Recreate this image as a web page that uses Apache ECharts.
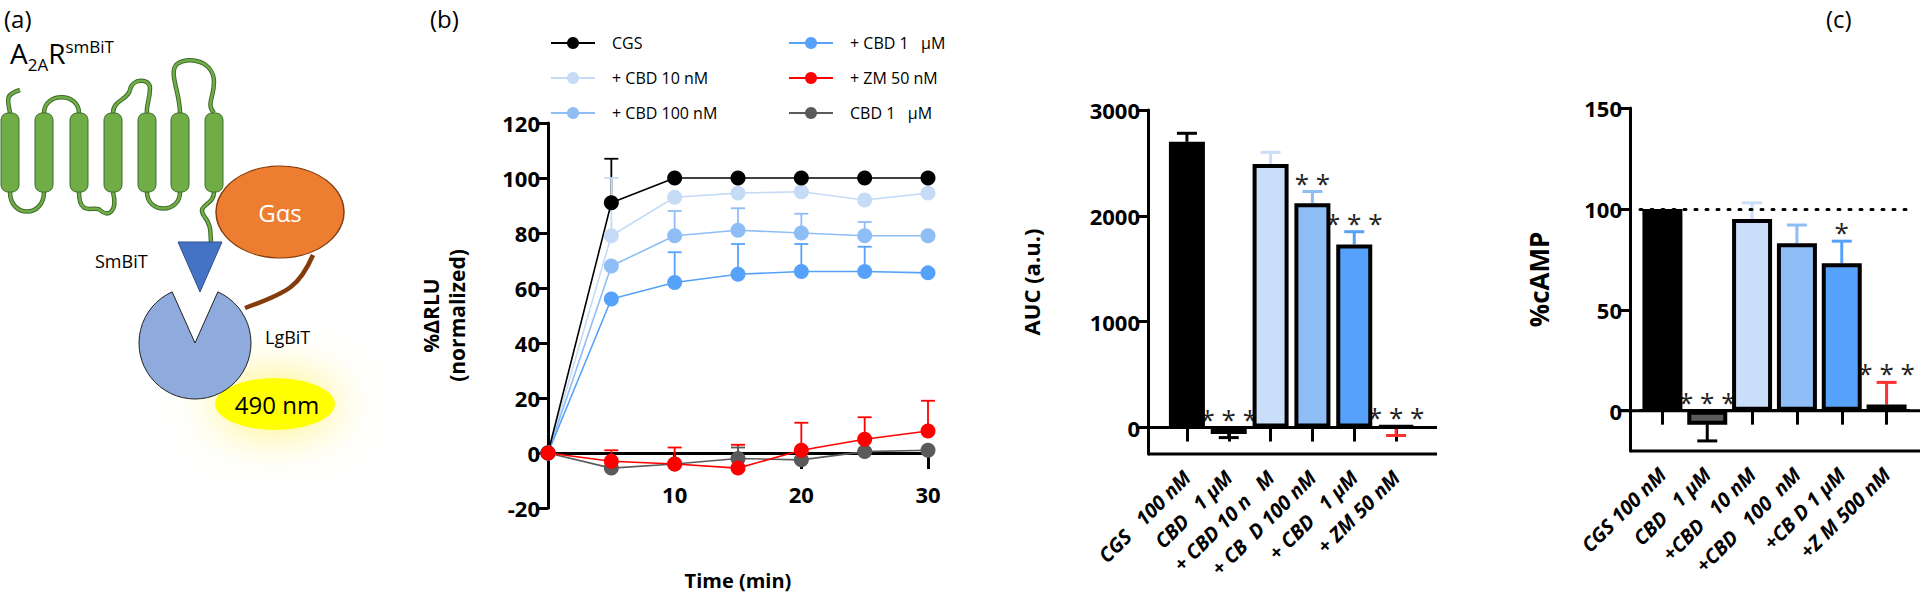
<!DOCTYPE html>
<html>
<head>
<meta charset="utf-8">
<script src="https://cdn.jsdelivr.net/npm/echarts@6/dist/echarts.min.js"></script>
<style>html,body{margin:0;padding:0;background:#fff}#main{width:1920px;height:612px}</style>
</head>
<body>
<div id="main"></div>
<script>
// ---- panel (b) time course ----
var times = [0, 5, 10, 15, 20, 25, 30];
var cgs      = [0, 91, 100, 100, 100, 100, 100];
var cbd10    = [0, 79, 93, 94.5, 95, 92, 94.5];
var cbd100   = [0, 68, 79, 81, 80, 79, 79];
var cbd1     = [0, 56, 62, 65, 66, 66, 65.5];
var zm50     = [0, -3, -4, -5.5, 1, 5, 8];
var cbdAlone = [0, -5.5, -4, -2, -2.5, 0.5, 1];
// upper error values (null = not visible)
var cgsErr    = [null, 107, null, null, null, null, null];
var cbd10Err  = [null, 100, null, null, null, null, null];
var cbd100Err = [null, null, 88, 89, 87, 84, null];
var cbd1Err   = [null, null, 73, 76, 76, 75, null];
var zm50Err   = [null, 1, 2, 3, 11, 13, 19];
var cbdAloneErr = [null, null, null, 2, null, null, null];

// ---- AUC panel ----
var aucCats = ['CGS   100 nM', 'CBD   1 μM', '+ CBD 10 n   M', '+ CB  D 100 nM', '+ CBD   1 μM', '+ ZM 50 nM'];
var aucVals = [2700, -60, 2490, 2120, 1730, 15];
var aucErr  = [2780, -95, 2600, 2230, 1850, -75];
var aucStars = ['', '* * *', '', '* *', '* * *', '* * *'];
var aucTicks = [0, 1000, 2000, 3000];

// ---- cAMP panel ----
var campCats = ['CGS 100 nM', 'CBD   1 μM', '+CBD   10 nM', '+CBD   100  nM', '+CB D 1 μM', '+Z M 500 nM'];
var campVals = [100, -7, 95, 83, 73, 3];
var campErr  = [100, -15, 103, 92, 84, 14];
var campStars = ['', '* * *', '', '', '*', '* * *'];
var campTicks = [0, 50, 100, 150];

var barFill = ['#000000', '#5a5a5a', '#C9DEF8', '#8FBDF6', '#56A2FA', '#000000'];
var errColor = ['#000000', '#000000', '#C9DEF8', '#8FBDF6', '#56A2FA', '#FF3030'];

var FONT = 'Open Sans';
var chart = echarts.init(document.getElementById('main'), null, {renderer: 'svg'});

function errData(vals, errs) {
  var out = [];
  for (var i = 0; i < vals.length; i++) if (errs[i] !== null) out.push([times[i], vals[i], errs[i]]);
  return out;
}
function errSeries(name, vals, errs, color) {
  return {
    type: 'custom', xAxisIndex: 0, yAxisIndex: 0, z: 1, silent: true,
    data: errData(vals, errs),
    renderItem: function (params, api) {
      var p0 = api.coord([api.value(0), api.value(1)]);
      var p1 = api.coord([api.value(0), api.value(2)]);
      var st = {stroke: color, lineWidth: 1.8};
      return {type: 'group', children: [
        {type: 'line', shape: {x1: p0[0], y1: p0[1], x2: p1[0], y2: p1[1]}, style: st},
        {type: 'line', shape: {x1: p1[0] - 7, y1: p1[1], x2: p1[0] + 7, y2: p1[1]}, style: st}
      ]};
    }
  };
}
function lineSeries(name, vals, color) {
  return {
    name: name, type: 'line', xAxisIndex: 0, yAxisIndex: 0, z: 3,
    data: times.map(function (t, i) { return [t, vals[i]]; }),
    symbol: 'circle', symbolSize: 15, color: color,
    lineStyle: {width: 1.6, color: color}, itemStyle: {color: color}
  };
}
function barErrSeries(idx, vals, errs, stars) {
  return {
    type: 'custom', xAxisIndex: idx + 1, yAxisIndex: idx, z: 1, silent: true,
    data: vals.map(function (v, i) { return [i, v, errs[i]]; }),
    renderItem: function (params, api) {
      var i = api.value(0), v = api.value(1), e = api.value(2);
      var p0 = api.coord([i, v]);
      var p1 = api.coord([i, e]);
      var top = api.coord([i, Math.max(v, e, 0)]);
      var st = {stroke: errColor[i], lineWidth: 3};
      var ch = [];
      if (e !== v) {
        ch.push({type: 'line', shape: {x1: p0[0], y1: p0[1], x2: p1[0], y2: p1[1]}, style: st});
        ch.push({type: 'line', shape: {x1: p1[0] - 10, y1: p1[1], x2: p1[0] + 10, y2: p1[1]}, style: st});
      }
      if (stars[i]) ch.push({type: 'text', x: top[0], y: top[1] + 4, style: {text: stars[i], fill: '#222', font: '26px ' + FONT, align: 'center', verticalAlign: 'bottom'}});
      return {type: 'group', children: ch};
    }
  };
}
function barSeries(idx, vals) {
  return {
    type: 'bar', xAxisIndex: idx + 1, yAxisIndex: idx, z: 2, barWidth: 36,
    data: vals.map(function (v, i) { return {value: v, itemStyle: {color: barFill[i]}}; }),
    itemStyle: {borderColor: '#000', borderWidth: 4}
  };
}

var axisTxt = {color: '#000', fontFamily: FONT, fontWeight: 'bold', fontSize: 22};
var catLabel = {color: '#000', fontFamily: FONT, fontWeight: 'bold', fontStyle: 'italic', fontSize: 20, rotate: 45, margin: 20, interval: 0};
var blackLine = {show: true, lineStyle: {color: '#000', width: 3}};
function plain(v) { return String(v); }

// schematic helpers: cubic segments "x0,y0, [cx1,cy1,cx2,cy2,x,y]..."
function curve(pts, style) {
  var out = [];
  var x = pts[0], y = pts[1];
  for (var k = 2; k + 5 < pts.length; k += 6) {
    out.push({type: 'bezierCurve', shape: {x1: x, y1: y, cpx1: pts[k], cpy1: pts[k + 1], cpx2: pts[k + 2], cpy2: pts[k + 3], x2: pts[k + 4], y2: pts[k + 5]}, style: style});
    x = pts[k + 4]; y = pts[k + 5];
  }
  return out;
}
function ellipse(cx, cy, rx, ry, style) {
  return {type: 'circle', x: cx, y: cy, scaleY: ry / rx, shape: {cx: 0, cy: 0, r: rx}, style: style};
}

var green = '#70AD47', greenDark = '#3E6B2A';
var helixX = [10, 44, 79, 113, 147, 180, 214];
var diagram = [
  {type: 'text', x: 4, y: 6, style: {text: '(a)', font: '24px ' + FONT, fill: '#000'}},
  {type: 'text', x: 430, y: 6, style: {text: '(b)', font: '24px ' + FONT, fill: '#000'}},
  {type: 'text', x: 1826, y: 6, style: {text: '(c)', font: '24px ' + FONT, fill: '#000'}},
  {type: 'text', x: 10, y: 38, style: {
    text: '{m|A}{s|2A}{m|R}{u|smBiT}', fill: '#000',
    rich: {m: {fontSize: 28, fontFamily: FONT, verticalAlign: 'bottom'}, s: {fontSize: 17, fontFamily: FONT, verticalAlign: 'bottom', padding: [0, 0, -6, 0]}, u: {fontSize: 17, fontFamily: FONT, verticalAlign: 'top', padding: [0, 0, 12, 0]}}
  }}
];
var loops = [
  [10,113, 8,100, 4,95, 20,90],
  [44,113, 44,92, 79,92, 79,113],
  [113,113, 113,100, 128,100, 130,90, 132,78, 150,78, 150,88, 150,100, 146,105, 147,113],
  [180,113, 180,92, 168,72, 177,64, 190,55, 214,62, 214,82, 214,98, 206,104, 214,113],
  [10,192, 10,218, 44,218, 44,192],
  [79,192, 79,218, 95,205, 100,210, 108,218, 118,212, 113,192],
  [147,192, 147,214, 180,214, 180,192],
  [214,192, 214,206, 196,204, 204,216, 212,226, 210,232, 211,242]
];
loops.forEach(function (d) {
  diagram = diagram.concat(curve(d, {stroke: greenDark, lineWidth: 4.5, fill: null}));
  diagram = diagram.concat(curve(d, {stroke: green, lineWidth: 2.5, fill: null}));
});
helixX.forEach(function (c) {
  diagram.push({type: 'rect', shape: {x: c - 9, y: 113, width: 18, height: 79, r: 7}, style: {fill: green, stroke: greenDark, lineWidth: 1}});
});
diagram = diagram.concat(curve([313,255, 300,285, 290,292, 245,308], {stroke: '#843C0C', lineWidth: 4.5, fill: null}));
diagram.push(
  ellipse(280, 212, 64, 46, {fill: '#ED7D31', stroke: '#843C0C', lineWidth: 1.5}),
  {type: 'text', x: 280, y: 212, style: {text: 'Gαs', fill: '#fff', font: '24px ' + FONT, align: 'center', verticalAlign: 'middle'}},
  {type: 'polygon', shape: {points: [[178, 242], [222, 242], [200, 292]]}, style: {fill: '#4472C4', stroke: '#2F528F', lineWidth: 1}},
  {type: 'text', x: 95, y: 252, style: {text: 'SmBiT', fill: '#000', font: '18px ' + FONT}},
  ellipse(275, 404, 60, 26, {fill: '#FFFF00', shadowColor: '#FFF06A', shadowBlur: 50}),
  {type: 'sector', shape: {cx: 195, cy: 343, r0: 0, r: 56, startAngle: -Math.PI / 2 + 0.42, endAngle: -Math.PI / 2 - 0.42 + Math.PI * 2, clockwise: true}, style: {fill: '#8FAADC', stroke: '#222', lineWidth: 1}},
  {type: 'text', x: 265, y: 328, style: {text: 'LgBiT', fill: '#000', font: '18px ' + FONT}},
  {type: 'text', x: 277, y: 404, style: {text: '490 nm', fill: '#000', font: '24px ' + FONT, align: 'center', verticalAlign: 'middle'}}
);

var tickStyle = {color: '#000', width: 3};
var option = {
  animation: false,
  backgroundColor: '#fff',
  legend: [
    {left: 545, top: 30, orient: 'vertical', itemGap: 19, itemWidth: 44, itemHeight: 15,
     textStyle: {fontFamily: FONT, fontSize: 16, color: '#000', padding: [0, 0, 0, 12]},
     data: ['CGS', '+ CBD 10 nM', '+ CBD 100 nM']},
    {left: 783, top: 30, orient: 'vertical', itemGap: 19, itemWidth: 44, itemHeight: 15,
     textStyle: {fontFamily: FONT, fontSize: 16, color: '#000', padding: [0, 0, 0, 12]},
     data: ['+ CBD 1   μM', '+ ZM 50 nM', 'CBD 1   μM']}
  ],
  grid: [
    {left: 548, top: 123, width: 380, height: 385},
    {left: 1166, top: 110, width: 251, height: 344},
    {left: 1640, top: 108, width: 269, height: 343}
  ],
  xAxis: [
    // zero line with ticks
    {type: 'value', gridIndex: 0, min: 0, max: 30, interval: 10,
     axisLine: {show: true, onZero: true, lineStyle: {color: '#000', width: 3}},
     axisTick: {show: true, length: 16, lineStyle: tickStyle},
     axisLabel: {show: false}, splitLine: {show: false}},
    // labels and title at the bottom
    {type: 'value', gridIndex: 0, position: 'bottom', min: 0, max: 30, interval: 10,
     name: 'Time (min)', nameLocation: 'middle', nameGap: 62, nameMoveOverlap: false,
     nameTextStyle: {fontFamily: FONT, fontWeight: 'bold', fontSize: 20, color: '#000'},
     axisLine: {show: false, onZero: false}, axisTick: {show: false},
     axisLabel: Object.assign({}, axisTxt, {margin: -25, formatter: function (v) { return v === 0 ? '' : String(v); }}),
     splitLine: {show: false}},
    {type: 'category', gridIndex: 1, data: aucCats, axisLine: blackLine,
     axisTick: {show: true, alignWithLabel: true, length: 14, lineStyle: tickStyle}, axisLabel: catLabel},
    {type: 'category', gridIndex: 2, data: campCats, axisLine: blackLine,
     axisTick: {show: true, alignWithLabel: true, length: 14, lineStyle: tickStyle}, axisLabel: catLabel}
  ],
  yAxis: [
    {type: 'value', gridIndex: 0, min: -20, max: 120, interval: 20, name: '%ΔRLU\n(normalized)', nameLocation: 'middle', nameGap: 78, nameRotate: 90,
     nameTextStyle: {fontFamily: FONT, fontWeight: 'bold', fontSize: 21, color: '#000', lineHeight: 26},
     axisLine: blackLine, axisTick: {show: true, length: 12, lineStyle: tickStyle}, axisLabel: Object.assign({}, axisTxt, {margin: 8}), splitLine: {show: false}},
    {type: 'value', gridIndex: 1, min: -250, max: 3000, offset: 18, name: 'AUC (a.u.)', nameLocation: 'middle', nameGap: 106, nameRotate: 90,
     nameTextStyle: {fontFamily: FONT, fontWeight: 'bold', fontSize: 22, color: '#000'},
     axisLine: blackLine, axisTick: {show: true, length: 12, lineStyle: tickStyle, customValues: aucTicks},
     axisLabel: Object.assign({}, axisTxt, {margin: 8, customValues: aucTicks, formatter: plain}), splitLine: {show: false}},
    {type: 'value', gridIndex: 2, min: -20, max: 150, offset: 10, name: '%cAMP', nameLocation: 'middle', nameGap: 78, nameRotate: 90,
     nameTextStyle: {fontFamily: FONT, fontWeight: 'bold', fontSize: 26, color: '#000'},
     axisLine: blackLine, axisTick: {show: true, length: 12, lineStyle: tickStyle, customValues: campTicks},
     axisLabel: Object.assign({}, axisTxt, {margin: 8, customValues: campTicks, formatter: plain}), splitLine: {show: false}}
  ],
  series: [
    errSeries('CGS', cgs, cgsErr, '#000'),
    errSeries('+ CBD 10 nM', cbd10, cbd10Err, '#C5DBF6'),
    errSeries('+ CBD 100 nM', cbd100, cbd100Err, '#8FBDF6'),
    errSeries('+ CBD 1   μM', cbd1, cbd1Err, '#56A2FA'),
    errSeries('+ ZM 50 nM', zm50, zm50Err, '#FF0000'),
    errSeries('CBD 1   μM', cbdAlone, cbdAloneErr, '#5a5a5a'),
    lineSeries('CBD 1   μM', cbdAlone, '#5a5a5a'),
    lineSeries('+ CBD 10 nM', cbd10, '#C5DBF6'),
    lineSeries('+ CBD 100 nM', cbd100, '#8FBDF6'),
    lineSeries('+ CBD 1   μM', cbd1, '#56A2FA'),
    lineSeries('CGS', cgs, '#000'),
    lineSeries('+ ZM 50 nM', zm50, '#FF0000'),
    barErrSeries(1, aucVals, aucErr, aucStars),
    barSeries(1, aucVals),
    barErrSeries(2, campVals, campErr, campStars),
    Object.assign(barSeries(2, campVals), {barWidth: 40,
      markLine: {silent: true, symbol: 'none', label: {show: false},
        lineStyle: {type: [2, 9], color: '#000', width: 3, cap: 'round'}, data: [{yAxis: 100}]}})
  ],
  graphic: diagram
};
chart.setOption(option);

// zero lines and axis extensions for bar panels
var extra = [];
[[1, 1148, 1437, -250], [2, 1630, 1920, -20]].forEach(function (a) {
  var y0 = chart.convertToPixel({yAxisIndex: a[0]}, 0);
  var yb = chart.convertToPixel({yAxisIndex: a[0]}, a[3]);
  extra.push({type: 'line', z: 10, shape: {x1: a[1] - 12, y1: y0, x2: a[2], y2: y0}, style: {stroke: '#000', lineWidth: 3}});
  extra.push({type: 'line', z: 10, shape: {x1: a[1], y1: yb, x2: a[2], y2: yb}, style: {stroke: '#000', lineWidth: 3}});
});
chart.setOption({graphic: diagram.concat(extra)});
</script>
</body>
</html>
